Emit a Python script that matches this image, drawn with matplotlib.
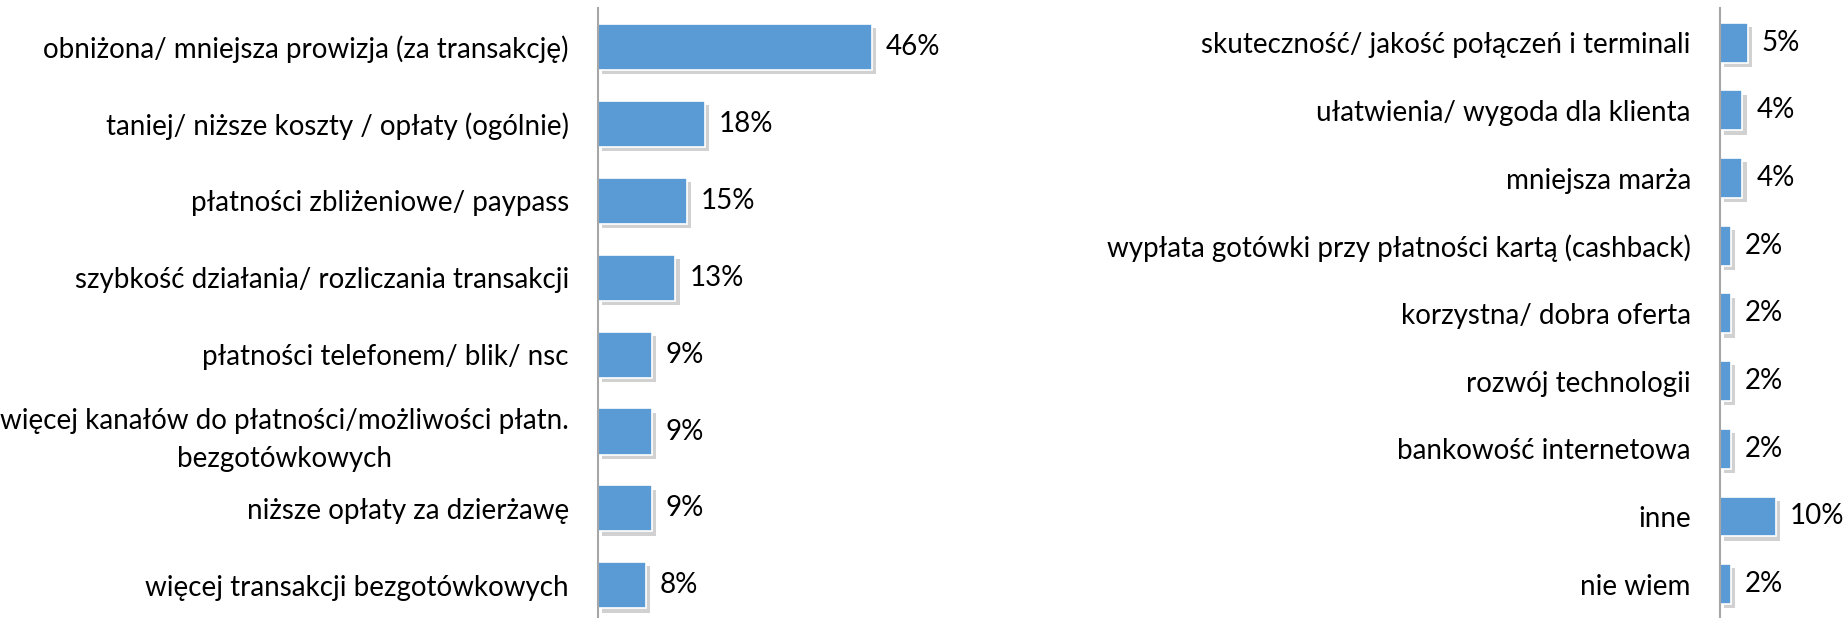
import matplotlib
matplotlib.use("Agg")
import matplotlib.pyplot as plt
import matplotlib.patheffects as pe

plt.rcParams['font.family'] = ['Lato', 'DejaVu Sans']

left_labels = [
    "obniżona/ mniejsza prowizja (za transakcję)",
    "taniej/ niższe koszty / opłaty (ogólnie)",
    "płatności zbliżeniowe/ paypass",
    "szybkość działania/ rozliczania transakcji",
    "płatności telefonem/ blik/ nsc",
    "więcej kanałów do płatności/możliwości płatn.\nbezgotówkowych",
    "niższe opłaty za dzierżawę",
    "więcej transakcji bezgotówkowych",
]
left_values = [46, 18, 15, 13, 9, 9, 9, 8]

right_labels = [
    "skuteczność/ jakość połączeń i terminali",
    "ułatwienia/ wygoda dla klienta",
    "mniejsza marża",
    "wypłata gotówki przy płatności kartą (cashback)",
    "korzystna/ dobra oferta",
    "rozwój technologii",
    "bankowość internetowa",
    "inne",
    "nie wiem",
]
right_values = [5, 4, 4, 2, 2, 2, 2, 10, 2]

W, H = 1847, 618
fig = plt.figure(figsize=(W / 100, H / 100), dpi=100)

bar_color = "#5B9BD5"
shadow = [pe.SimplePatchShadow(offset=(3, -3), shadow_rgbFace="#8c8c8c", alpha=0.4), pe.Normal()]


def draw(ax, labels, values, height, ylim, xmax):
    pos = list(range(len(values)))
    bars = ax.barh(pos, values, height=height, color=bar_color,
                   edgecolor="white", linewidth=1.2)
    for b in bars:
        b.set_path_effects(shadow)
    ax.bar_label(bars, labels=[f"{v}%" for v in values], padding=10,
                 fontsize=20, color="black")
    ax.set_yticks(pos)
    ax.set_yticklabels(labels, fontsize=20, color="black", linespacing=1.55)
    for t in ax.get_yticklabels():
        t.set_multialignment("center")
    ax.tick_params(axis="y", length=0, pad=21)
    ax.set_xticks([])
    ax.set_xlim(0, xmax)
    ax.set_ylim(*ylim)
    for s in ["top", "right", "bottom"]:
        ax.spines[s].set_visible(False)
    ax.spines["left"].set_color("#A6A6A6")
    ax.spines["left"].set_linewidth(1.5)


# left panel
ax1 = fig.add_axes([598 / W, 0, 402 / W, 610 / H])
draw(ax1, left_labels, left_values, 0.6, (7.425, -0.507), 402 / 5.95)

# right panel
ax2 = fig.add_axes([1720 / W, 0, 127 / W, 610 / H])
draw(ax2, right_labels, right_values, 0.59, (8.5, -0.513), 127 / 5.6)

fig.savefig("out.png", dpi=100)
